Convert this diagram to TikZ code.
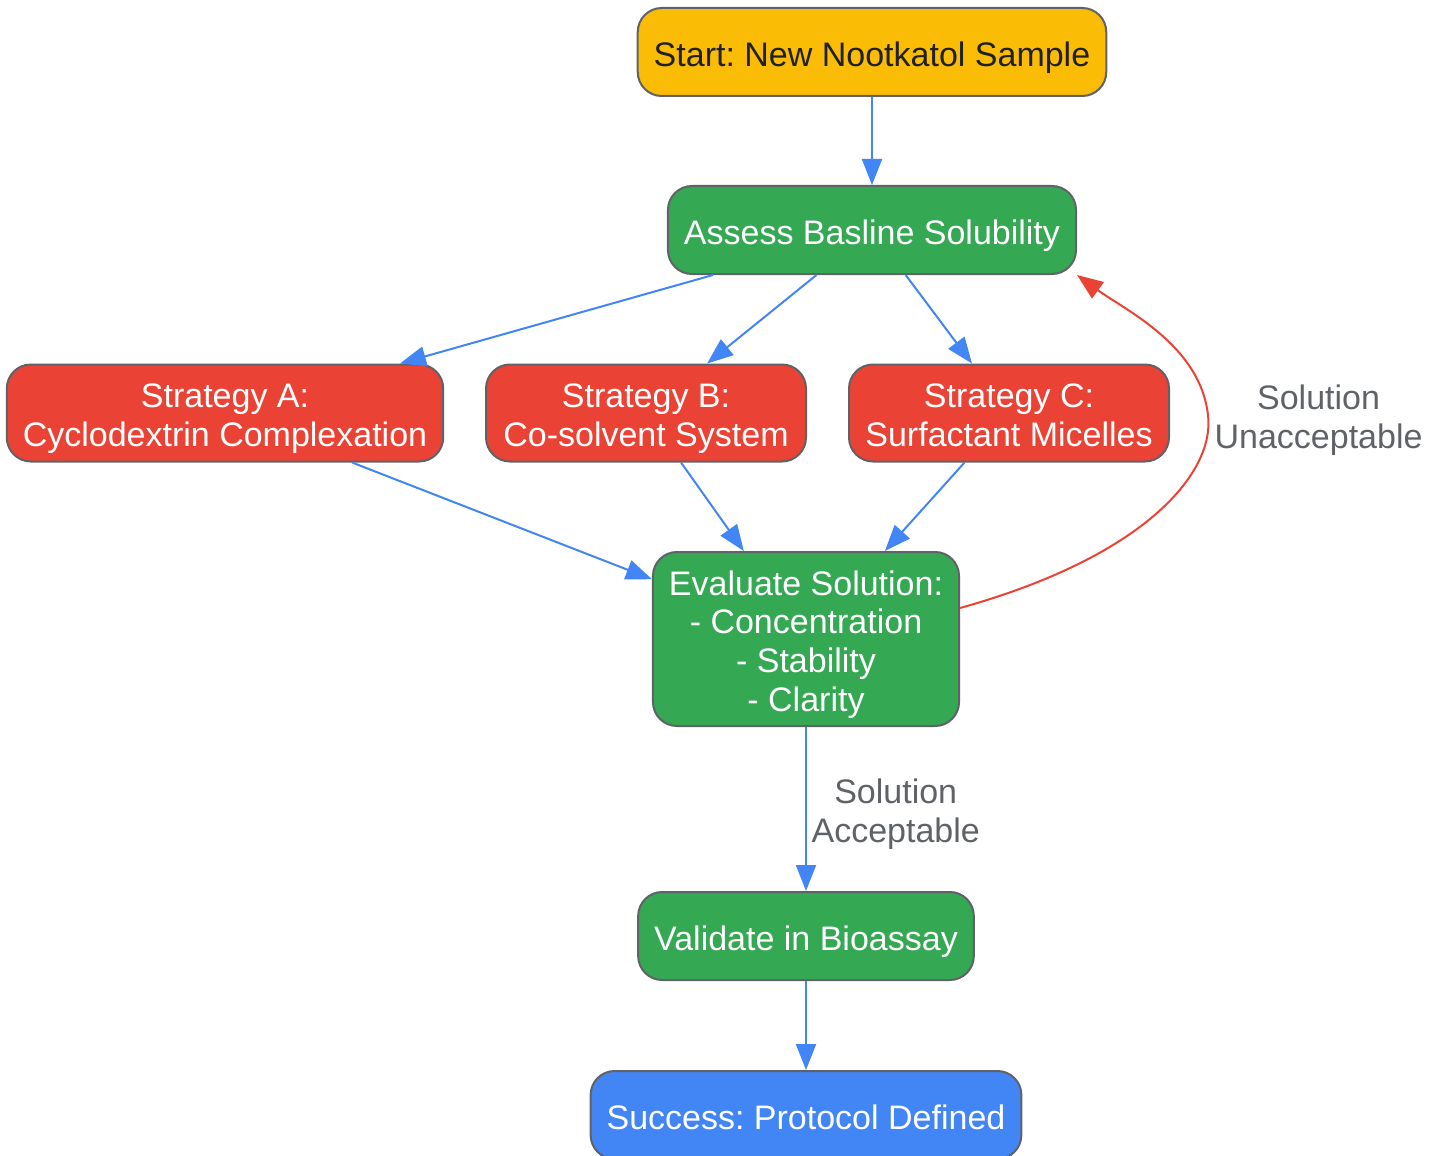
\documentclass[tikz,border=0pt]{standalone}
\usepackage{fontspec}
\setmainfont{Liberation Sans}
\usetikzlibrary{arrows.meta}
\frenchspacing
\definecolor{gyellow}{HTML}{FBBC05}
\definecolor{ggreen}{HTML}{34A853}
\definecolor{gred}{HTML}{EA4335}
\definecolor{gblue}{HTML}{4285F4}
\definecolor{ggray}{HTML}{5F6368}
\definecolor{gdark}{HTML}{202124}
\tikzset{
  box/.style={draw=ggray, line width=1pt, rounded corners=12pt, align=center,
    inner xsep=8pt, inner ysep=2pt, minimum height=44pt, text=white,
    font=\fontsize{17}{19.4}\selectfont, text height=18pt, text depth=3.8pt},
  twoline/.style={minimum height=48.5pt, minimum width=160pt, text height=37.4pt},
  flow/.style={draw=gblue, line width=1pt, -{Triangle[length=13pt,width=10pt]}},
  lbl/.style={text=ggray, align=center, inner sep=1.3pt,
    font=\fontsize{17}{19.4}\selectfont, text height=37.4pt, text depth=3.8pt}
}
\begin{document}
\begin{tikzpicture}[x=0.5pt, y=-0.5pt]
        \useasboundingbox (0,0) rectangle (1442,1156);
        \node[box, fill=gyellow, text=gdark] (start) at (872, 52) {Start: New Nootkatol Sample};
        \node[box, fill=ggreen] (assess) at (872, 230) {Assess Basline Solubility};
        \node[box, twoline, fill=gred] (stratA) at (225, 413) {Strategy A:\\Cyclodextrin Complexation};
        \node[box, twoline, fill=gred] (stratB) at (646, 413) {Strategy B:\\Co-solvent System};
        \node[box, twoline, fill=gred] (stratC) at (1009, 413) {Strategy C:\\Surfactant Micelles};
        \node[box, fill=ggreen, minimum height=87pt, text height=76.2pt] (eval) at (806, 639) {Evaluate Solution:\\- Concentration\\- Stability\\- Clarity};
        \node[box, fill=ggreen] (valid) at (806, 936) {Validate in Bioassay};
        \node[box, fill=gblue] (success) at (806, 1115) {Success: Protocol Defined};
        \coordinate (bend) at (1208, 415);
        \draw[flow] (start) -- (assess);
        \draw[flow] (assess) -- (stratA);
        \draw[flow] (assess) -- (stratB);
        \draw[flow] (assess) -- (stratC);
        \draw[flow] (stratA) -- (eval);
        \draw[flow] (stratB) -- (eval);
        \draw[flow] (stratC) -- (eval);
        \draw[flow, draw=gred, -{Triangle[length=13pt,width=10pt,fill=gred]}] ([yshift=15.5pt]eval.east)
            .. controls (1150, 555) and (1215, 470) .. (bend) node[lbl, right=1.5pt] (unacc) {Solution\\Unacceptable}
            .. controls (1200, 345) and (1125, 310) .. (assess.south east);
        \draw[flow] (eval) -- node[lbl, right=1pt] (acc) {Solution\\Acceptable} (valid);
        \draw[flow] (valid) -- (success);
    \end{tikzpicture}
\end{document}
